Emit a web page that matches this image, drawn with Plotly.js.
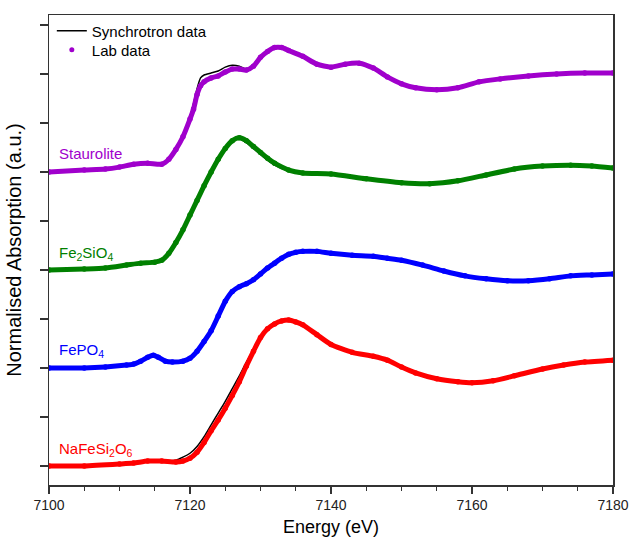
<!DOCTYPE html>
<html>
<head>
<meta charset="utf-8">
<script src="https://cdn.plot.ly/plotly-3.0.1.min.js"></script>
<style>html,body{margin:0;padding:0;background:#fff;}#chart{width:631px;height:538px;}</style>
</head>
<body>
<div id="chart"></div>
<script>
// ---- Data (normalised absorption) ----
const sampleNames = ["NaFeSi<sub>2</sub>O<sub>6</sub>", "FePO<sub>4</sub>", "Fe<sub>2</sub>SiO<sub>4</sub>", "Staurolite"];
const sampleColors = ["#FF0000", "#0000FF", "#008000", "#A000CC"];
const stackOffsets = [0, 1, 2, 3];

// NaFeSi2O6
const energyNa = [7100,7105,7110,7112,7114,7116,7118,7119,7120,7121,7122,7123,7124,7125,7126,7127,7128,7129,7130,7131,7132,7133,7134,7135,7136,7138,7140,7143,7146,7148,7150,7152,7155,7158,7160,7163,7166,7170,7173,7176,7180];
const labNa  = [0.00,0.00,0.02,0.03,0.05,0.05,0.04,0.05,0.08,0.14,0.24,0.36,0.47,0.59,0.72,0.86,1.02,1.17,1.31,1.40,1.45,1.48,1.49,1.47,1.44,1.34,1.24,1.16,1.12,1.08,1.01,0.95,0.89,0.86,0.85,0.87,0.92,0.99,1.03,1.06,1.08];
const syncNa = [0.00,0.00,0.02,0.03,0.05,0.05,0.06,0.09,0.13,0.20,0.30,0.42,0.54,0.66,0.79,0.92,1.06,1.18,1.31,1.40,1.45,1.48,1.49,1.47,1.44,1.34,1.24,1.16,1.12,1.08,1.01,0.95,0.89,0.86,0.85,0.87,0.92,0.99,1.03,1.06,1.08];

// FePO4
const energyFp = [7100,7105,7108,7111,7112,7113,7114,7114.8,7115.5,7116.5,7117.5,7119,7120,7121,7122,7123,7124,7125,7126,7127,7128,7129,7130,7131,7132,7133,7134,7135,7136,7138,7140,7143,7146,7148,7150,7153,7156,7159,7162,7165,7168,7171,7174,7177,7180];
const labFp  = [0.00,0.00,0.01,0.03,0.04,0.07,0.11,0.13,0.11,0.07,0.06,0.07,0.10,0.17,0.27,0.38,0.53,0.68,0.78,0.83,0.86,0.90,0.96,1.02,1.07,1.12,1.16,1.18,1.19,1.19,1.17,1.15,1.14,1.12,1.10,1.05,0.99,0.94,0.91,0.89,0.89,0.91,0.94,0.95,0.96];
const syncFp = [0.00,0.00,0.01,0.03,0.04,0.07,0.11,0.13,0.11,0.07,0.06,0.07,0.10,0.17,0.27,0.38,0.53,0.68,0.78,0.83,0.86,0.90,0.96,1.02,1.07,1.12,1.16,1.18,1.19,1.19,1.17,1.15,1.13,1.11,1.09,1.04,0.98,0.93,0.90,0.89,0.89,0.91,0.94,0.95,0.96];

// Fe2SiO4
const energyFs = [7100,7105,7108,7111,7113,7115,7116,7117,7118,7119,7120,7121,7122,7123,7124,7125,7126,7127,7128,7129,7130,7131,7132,7134,7136,7140,7145,7150,7154,7158,7162,7166,7170,7174,7177,7180];
const labFs  = [0.00,0.01,0.02,0.05,0.07,0.08,0.10,0.17,0.28,0.41,0.56,0.71,0.86,1.00,1.13,1.24,1.32,1.35,1.32,1.26,1.20,1.14,1.09,1.02,0.99,0.98,0.93,0.89,0.88,0.91,0.97,1.03,1.06,1.07,1.06,1.04];
const syncFs = [0.00,0.01,0.02,0.05,0.07,0.08,0.10,0.17,0.28,0.41,0.56,0.71,0.86,1.00,1.13,1.24,1.32,1.34,1.30,1.24,1.18,1.12,1.07,1.01,0.98,0.97,0.93,0.89,0.88,0.91,0.97,1.03,1.06,1.07,1.06,1.04];

// Staurolite
const energySt = [7100,7105,7108,7110,7112,7114,7116,7117,7118,7119,7120,7120.5,7121,7121.5,7122,7123,7124,7125,7126,7127,7128,7129,7130,7131,7132,7133,7134,7136,7138,7140,7142,7144,7146,7148,7150,7152,7155,7158,7161,7164,7168,7172,7176,7180];
const labSt  = [0.00,0.02,0.03,0.05,0.08,0.09,0.08,0.13,0.23,0.36,0.54,0.64,0.79,0.88,0.92,0.96,0.98,1.02,1.05,1.05,1.04,1.08,1.17,1.23,1.27,1.27,1.24,1.18,1.10,1.07,1.10,1.11,1.06,0.97,0.90,0.86,0.84,0.86,0.92,0.95,0.98,1.00,1.01,1.01];
const syncSt = [0.00,0.02,0.03,0.05,0.08,0.09,0.08,0.13,0.23,0.37,0.57,0.70,0.85,0.96,0.99,1.01,1.03,1.07,1.09,1.08,1.05,1.08,1.17,1.23,1.27,1.27,1.24,1.17,1.09,1.07,1.10,1.11,1.06,0.97,0.90,0.86,0.84,0.86,0.92,0.95,0.98,1.00,1.01,1.01];

const energies = [energyNa, energyFp, energyFs, energySt];
const labSeries = [labNa, labFp, labFs, labSt];
const syncSeries = [syncNa, syncFp, syncFs, syncSt];

const xTickVals = [7100, 7120, 7140, 7160, 7180];
const xTickText = ["7100", "7120", "7140", "7160", "7180"];

// ---- Build traces ----
const FONT = "Arial, 'Liberation Sans', sans-serif";
const traces = [];
for (let i = 0; i < 4; i++) {
  traces.push({
    x: energies[i], y: syncSeries[i].map(v => v + stackOffsets[i]),
    mode: "lines", type: "scatter", name: "Synchrotron data",
    line: {color: "#000000", width: 1.5, shape: "spline", smoothing: 0.6},
    showlegend: i === 0, legend: "legend", hoverinfo: "skip"
  });
}
for (let i = 0; i < 4; i++) {
  traces.push({
    x: energies[i], y: labSeries[i].map(v => v + stackOffsets[i]),
    mode: "lines+markers", type: "scatter", name: "Lab data",
    line: {color: sampleColors[i], width: 5, shape: "spline", smoothing: 0.6},
    marker: {color: sampleColors[i], size: 5.5},
    showlegend: false, hoverinfo: "skip"
  });
}
// legend entry for lab data (dot symbol)
traces.push({
  x: [null], y: [null], mode: "markers", type: "scatter", name: "Lab data",
  marker: {color: sampleColors[3], size: 5}, showlegend: true, legend: "legend2"
});

const labelY = [0.17, 1.18, 2.17, 3.19];
const annotations = sampleNames.map((t, i) => ({
  x: 7101.2, y: labelY[i], xref: "x", yref: "y", text: t,
  showarrow: false, xanchor: "left", yanchor: "middle",
  font: {family: FONT, size: 15, color: sampleColors[i]}
}));

const legendCommon = {
  x: 0.005, xanchor: "left", yanchor: "middle",
  bgcolor: "rgba(0,0,0,0)", font: {family: FONT, size: 15, color: "#000"},
  tracegroupgap: 0, itemwidth: 30
};

const layout = {
  width: 631, height: 538,
  margin: {l: 49, r: 18, t: 15, b: 53},
  paper_bgcolor: "#ffffff", plot_bgcolor: "#ffffff",
  font: {family: FONT, color: "#000"},
  showlegend: true,
  legend: Object.assign({}, legendCommon, {y: 0.966}),
  legend2: Object.assign({}, legendCommon, {y: 0.9255}),
  xaxis: {
    range: [7100, 7180], tickvals: xTickVals, ticktext: xTickText,
    ticks: "outside", ticklen: 7, tickwidth: 1.2, tickcolor: "#333",
    minor: {dtick: 5, tick0: 7100, ticks: "outside", ticklen: 4, tickwidth: 1.2, tickcolor: "#333"},
    showline: true, linecolor: "#333", linewidth: 1.5, mirror: true,
    showgrid: false, zeroline: false,
    tickfont: {family: FONT, size: 14, color: "#222"},
    title: {text: "Energy (eV)", font: {family: FONT, size: 18, color: "#000"}, standoff: 8}
  },
  yaxis: {
    range: [-0.194, 4.602], dtick: 0.5, tick0: 0,
    ticks: "outside", ticklen: 8, tickwidth: 1.2, tickcolor: "#333",
    showticklabels: false,
    showline: true, linecolor: "#333", linewidth: 1.5, mirror: true,
    showgrid: false, zeroline: false,
    title: {text: "Normalised Absorption (a.u.)", font: {family: FONT, size: 20, color: "#000"}, standoff: 12}
  },
  annotations: annotations
};

Plotly.newPlot("chart", traces, layout, {displayModeBar: false, staticPlot: true});
</script>
</body>
</html>
